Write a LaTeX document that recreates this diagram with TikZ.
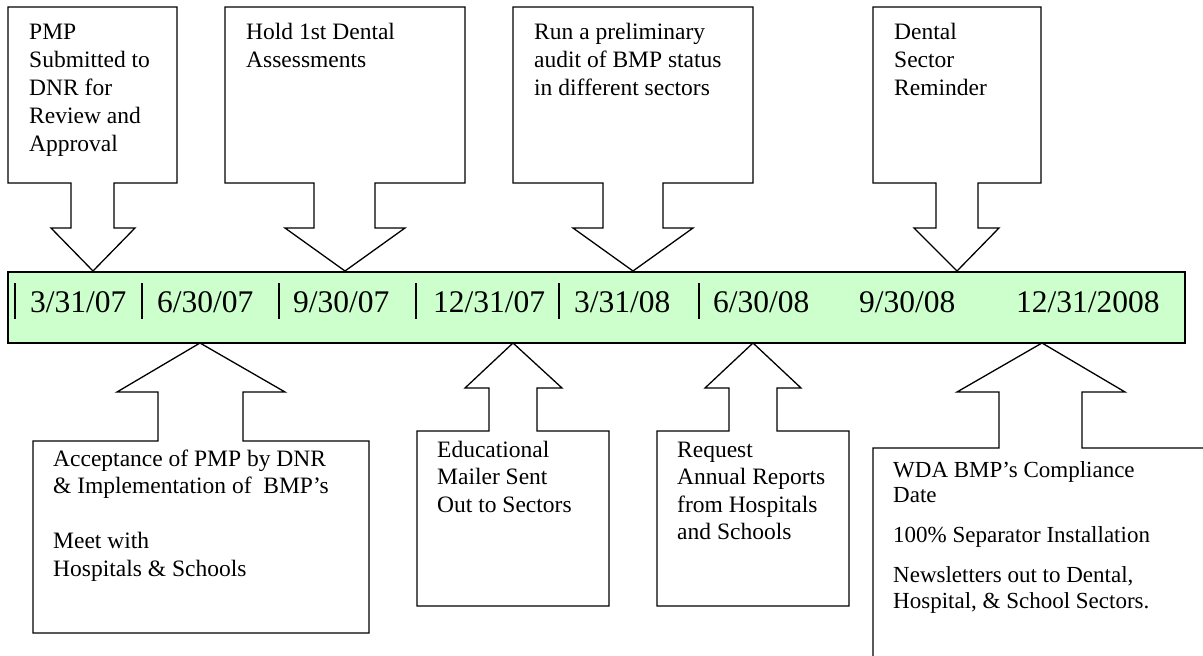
\documentclass[tikz,border=0pt]{standalone}
\usepackage{fontspec}
\setmainfont{Liberation Serif}
\definecolor{barfill}{HTML}{CCFFCC}
\newcommand\textlines[1]{\begin{tabular}[t]{@{}l@{}}#1\end{tabular}}
\tikzset{
  outline/.style={draw=black, line width=1.3pt, line join=miter},
  boxtext/.style={anchor=base west, inner sep=0pt, font=\fontsize{23.5}{28}\selectfont},
  datetext/.style={anchor=base west, inner sep=0pt, font=\fontsize{31.5}{38}\selectfont},
  tickmark/.style={line width=1.6pt},
}
\newcommand\tcallout[8]{%
  \draw[outline,fill=white] (#1,7) -- (#2,7) -- (#2,183) -- (#4,183) -- (#4,228) -- (#6,228) -- (#7,271) coordinate (#8) -- (#5,228) -- (#3,228) -- (#3,183) -- (#1,183) -- cycle;}
\begin{document}
\begin{tikzpicture}[x=1pt,y=-1pt]
\useasboundingbox (0,0) rectangle (1203,656);
% top callouts
\tcallout{8}{177}{71}{114}{51}{135}{93}{t1}
\tcallout{225}{465}{314}{375}{285}{405}{345}{t2}
\tcallout{513}{753}{603}{663}{573}{693}{633}{t3}
\tcallout{873}{1041}{936}{978}{914}{999}{957}{t4}
\node[boxtext] (t1text) at (29,39) {\textlines{PMP\\Submitted to\\DNR for\\Review and\\Approval}};
\node[boxtext] (t2text) at (246,39) {\textlines{Hold 1st Dental\\Assessments}};
\node[boxtext] (t3text) at (534,39) {\textlines{Run a preliminary\\audit of BMP status\\in different sectors}};
\node[boxtext] (t4text) at (894,39) {\textlines{Dental\\Sector\\Reminder}};
% bottom callouts
\draw[outline,fill=white] (200,343) coordinate (b1) -- (285,392) -- (243,392) -- (243,441) -- (369,441) -- (369,633) -- (33,633) -- (33,441) -- (158,441) -- (158,392) -- (117,392) -- cycle;
\draw[outline,fill=white] (513,343) coordinate (b2) -- (562,388) -- (537,388) -- (537,431) -- (609,431) -- (609,606) -- (417,606) -- (417,431) -- (489,431) -- (489,388) -- (465,388) -- cycle;
\draw[outline,fill=white] (753,343) coordinate (b3) -- (801,388) -- (777,388) -- (777,431) -- (849,431) -- (849,606) -- (657,606) -- (657,431) -- (729,431) -- (729,388) -- (705,388) -- cycle;
\draw[outline] (1210,448) -- (1082,448) -- (1082,392) -- (1125,392) -- (1042,343) coordinate (b4) -- (957,392) -- (999,392) -- (999,448) -- (873,448) -- (873,660);
\node[boxtext, font=\fontsize{23.5}{27.5}\selectfont] (b1text) at (53,466) {\textlines{Acceptance of PMP by DNR\\\& Implementation of\ \ BMP’s\\[27.5pt]Meet with\\Hospitals \& Schools}};
\node[boxtext, font=\fontsize{23.5}{27.5}\selectfont] (b2text) at (437,457) {\textlines{Educational\\Mailer Sent\\Out to Sectors}};
\node[boxtext, font=\fontsize{23.5}{27.5}\selectfont] (b3text) at (677,457) {\textlines{Request\\Annual Reports\\from Hospitals\\and Schools}};
\node[boxtext, font=\fontsize{23}{25}\selectfont] (b4texta) at (893,477) {\textlines{WDA BMP’s Compliance\\Date}};
\node[boxtext, font=\fontsize{23}{25}\selectfont] (b4textb) at (893,542) {100\% Separator Installation};
\node[boxtext, font=\fontsize{23}{26}\selectfont] (b4textc) at (893,582) {\textlines{Newsletters out to Dental,\\Hospital, \& School Sectors.}};
% timeline bar
\draw[outline, fill=barfill] (8,272) rectangle (1185,343);
\foreach \x in {15,142,279,416,559,699} \draw[tickmark] (\x,283) -- (\x,319);
\node[datetext] (d1) at (30,312) {3/31/07};
\node[datetext] (d2) at (157,312) {6/30/07};
\node[datetext] (d3) at (293,312) {9/30/07};
\node[datetext] (d4) at (433,312) {12/31/07};
\node[datetext] (d5) at (574,312) {3/31/08};
\node[datetext] (d6) at (713,312) {6/30/08};
\node[datetext] (d7) at (859,312) {9/30/08};
\node[datetext] (d8) at (1016,312) {12/31/2008};
\end{tikzpicture}
\end{document}
